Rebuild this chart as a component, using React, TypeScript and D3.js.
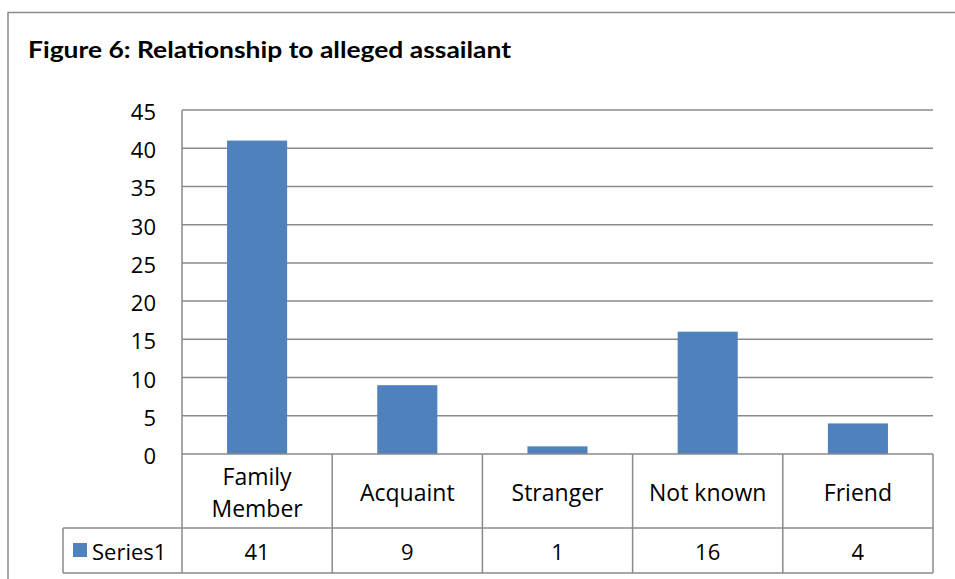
import React from "react";
import * as d3 from "d3";

const categories: string[][] = [["Family", "Member"], ["Acquaint"], ["Stranger"], ["Not known"], ["Friend"]];
const seriesName = "Series1";
const values: number[] = [41, 9, 1, 16, 4];
const yTicks: number[] = [0, 5, 10, 15, 20, 25, 30, 35, 40, 45];
const title = "Figure 6: Relationship to alleged assailant";

export default function App() {
  const W = 955, H = 579;
  const left = 182, right = 933, top = 110, bottom = 454;
  const row1 = 528, row2 = 573, legendLeft = 63;
  const x = d3.scaleBand<number>().domain(d3.range(values.length)).range([left, right]).paddingInner(0.6).paddingOuter(0.3);
  const xCell = d3.scaleBand<number>().domain(d3.range(values.length)).range([left, right]);
  const y = d3.scaleLinear().domain([0, 45]).range([bottom, top]);
  const grid = "#8a8a8a";
  const font = "'Open Sans', Lato, sans-serif";
  const fs = 22;
  return (
    <svg width={W} height={H} style={{ position: "absolute", left: 0, top: 0, background: "#fff" }} fontFamily={font}>
      <rect x={8} y={12.5} width={1000} height={700} fill="#fff" stroke={grid} strokeWidth={1.5} />
      <text x={28} y={58} fontSize={22.5} fontWeight="bold" fontFamily="Lato, 'Open Sans', sans-serif" fill="#000" textLength={483} lengthAdjust="spacingAndGlyphs">{title}</text>
      {yTicks.map((t) => (
        <g key={t}>
          {t > 0 && <line x1={left} x2={right} y1={y(t)} y2={y(t)} stroke={grid} strokeWidth={1.5} />}
          <text x={156} y={y(t) + 10} textAnchor="end" fontSize={fs} fill="#000">{t}</text>
        </g>
      ))}
      {values.map((v, i) => (
        <rect key={i} x={x(i)} y={y(v)} width={x.bandwidth()} height={y(0) - y(v)} fill="#4F81BD" />
      ))}
      {/* table */}
      <line x1={left} x2={right} y1={bottom} y2={bottom} stroke={grid} strokeWidth={1.5} />
      <line x1={left} x2={left} y1={top} y2={row2} stroke={grid} strokeWidth={1.5} />
      <line x1={legendLeft} x2={right} y1={row1} y2={row1} stroke={grid} strokeWidth={1.5} />
      <line x1={legendLeft} x2={right} y1={row2} y2={row2} stroke={grid} strokeWidth={1.5} />
      <line x1={legendLeft} x2={legendLeft} y1={row1} y2={row2} stroke={grid} strokeWidth={1.5} />
      {values.map((v, i) => (
        <line key={"v" + i} x1={(xCell(i) as number) + xCell.bandwidth()} x2={(xCell(i) as number) + xCell.bandwidth()} y1={bottom} y2={row2} stroke={grid} strokeWidth={1.5} />
      ))}
      {categories.map((c, i) => {
        const cx = (xCell(i) as number) + xCell.bandwidth() / 2;
        const mid = (bottom + row1) / 2;
        return c.map((line, j) => (
          <text key={i + "-" + j} x={cx} y={mid + 10 + (j - (c.length - 1) / 2) * 32} textAnchor="middle" fontSize={23} fill="#000">{line}</text>
        ));
      })}
      {values.map((v, i) => (
        <text key={"t" + i} x={(xCell(i) as number) + xCell.bandwidth() / 2} y={(row1 + row2) / 2 + 9.5} textAnchor="middle" fontSize={fs} fill="#000">{v}</text>
      ))}
      <rect x={73} y={543} width={14} height={14} fill="#4F81BD" />
      <text x={92} y={(row1 + row2) / 2 + 9.5} fontSize={fs} fill="#000">{seriesName}</text>
    </svg>
  );
}
